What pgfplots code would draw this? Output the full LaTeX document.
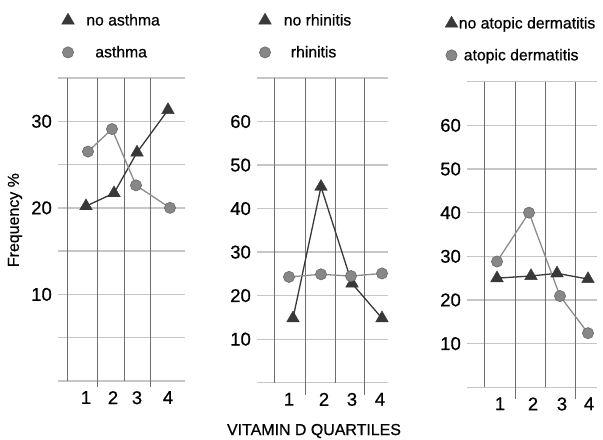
\documentclass[border=0pt]{standalone}
\usepackage{pgfplots}
\pgfplotsset{compat=1.18}
\usepackage{fontspec}
\setmainfont{Liberation Sans}[FakeBold=0.6]
\definecolor{darkser}{HTML}{383838}
\definecolor{lightser}{HTML}{878787}
\definecolor{circedge}{HTML}{6A6A6A}
\definecolor{lightline}{HTML}{8C8C8C}
\definecolor{hgrid}{HTML}{C6C6C6}
\definecolor{vgrid}{HTML}{6E6E6E}
\pgfplotsset{
  panel/.style={
    scale only axis,
    axis line style={draw=none},
    major tick length=0pt, minor tick length=0pt,
    ymajorgrids, yminorgrids,
    major grid style={draw=hgrid, line width=1.3bp},
    minor grid style={draw=hgrid, line width=1.3bp},
    tick label style={font=\fontsize{18.5}{20}\selectfont},
    /pgf/number format/assume math mode=true,
    yticklabel style={inner sep=0pt, xshift=-6bp},
    xticklabel style={inner sep=0pt, yshift=-10bp},
    clip=false,
    xticklabels={1,2,3,4},
    label style={font=\fontsize{16}{19}\selectfont},
    legend style={draw=none, fill=none, font=\fontsize{15.8}{18}\selectfont,
      inner sep=0pt, nodes={inner sep=0pt}, row sep=19bp,
      at={(axis description cs:0,1)}, anchor=north west},
    legend cell align=left,
    legend image code/.code={\draw[#1, only marks] plot coordinates {(0bp,0bp)};},
  },
  tri/.style={color=darkser, line width=1.3bp, mark=triangle*, mark size=7.3bp,
    mark options={fill=darkser, draw=darkser, line width=0.4bp}},
  circ/.style={color=lightline, line width=1.3bp, mark=*, mark size=5.6bp,
    mark options={fill=lightser, draw=circedge, line width=0.6bp}},
  vline/.style={vgrid, line width=1bp, mark=none, forget plot},
}
\begin{document}
\begin{tikzpicture}
\path[use as bounding box] (0,0) rectangle (603bp,440bp);
% Panel 1: asthma
\begin{axis}[panel,
  at={(58bp,59bp)}, anchor=south west,
  width=127bp, height=303bp,
  xmin=0, xmax=127, ymin=0, ymax=35,
  xtick={28,55,79,110},
  ytick={10,20,30}, minor ytick={0,5,15,25,35},
  ylabel={Frequency \%},
  ylabel style={at={(axis description cs:0,0.531)}, anchor=center, yshift=43bp},
  legend style={xshift=3.5bp, yshift=65bp, column sep=12bp},
]
\addplot[vline] coordinates {(9,0) (9,35)};
\addplot[vline] coordinates {(39,-0.7) (39,35)};
\addplot[vline] coordinates {(66,0) (66,35)};
\addplot[vline] coordinates {(92,-0.7) (92,35)};
\addplot[tri] coordinates {(28,20.2) (56,21.7) (79,26.4) (110,31.3)};
\addlegendentry{no asthma}
\addplot[circ] coordinates {(30,26.5) (54,29.1) (78,22.6) (112,20.0)};
\addlegendentry{\hspace{9bp}asthma}
\end{axis}
% Panel 2: rhinitis
\begin{axis}[panel,
  at={(257bp,57.3bp)}, anchor=south west,
  width=131bp, height=304.7bp,
  xmin=0, xmax=131, ymin=0, ymax=70,
  xtick={32,67,95,123},
  ytick={10,20,...,60}, minor ytick={0,70},
  xlabel={VITAMIN D QUARTILES},
  xlabel style={at={(axis description cs:0.5,0)}, anchor=center, yshift=-48.3bp, xshift=-8.5bp},
  legend style={xshift=1.5bp, yshift=65bp, column sep=12.5bp},
]
\addplot[vline] coordinates {(17,0) (17,70)};
\addplot[vline] coordinates {(48,-2.8) (48,70)};
\addplot[vline] coordinates {(78,0) (78,70)};
\addplot[vline] coordinates {(107,-2.8) (107,70)};
\addplot[tri] coordinates {(36,14.8) (64,45.0) (95,22.8) (125,14.8)};
\addlegendentry{no rhinitis}
\addplot[circ] coordinates {(32,24.3) (64,24.9) (94,24.5) (125,25.1)};
\addlegendentry{\hspace{7bp}rhinitis}
\end{axis}
% Panel 3: atopic dermatitis
\begin{axis}[panel,
  at={(467bp,52.7bp)}, anchor=south west,
  width=130bp, height=305.6bp,
  xmin=0, xmax=130, ymin=0, ymax=70,
  xtick={33,66,95,122},
  ytick={10,20,...,60}, minor ytick={0,70},
  legend style={xshift=-22bp, yshift=65.7bp, column sep=1bp},
]
\addplot[vline] coordinates {(17,0) (17,70)};
\addplot[vline] coordinates {(48,-2.6) (48,70)};
\addplot[vline] coordinates {(78,0) (78,70)};
\addplot[vline] coordinates {(108,-2.6) (108,70)};
\addplot[tri] coordinates {(30,25.0) (64,25.5) (90,26.1) (121,24.8)};
\addlegendentry{no atopic dermatitis}
\addplot[circ] coordinates {(30,28.8) (62,40.0) (93,20.9) (121,12.4)};
\addlegendentry{\hspace{5bp}atopic dermatitis}
\end{axis}
\end{tikzpicture}
\end{document}
